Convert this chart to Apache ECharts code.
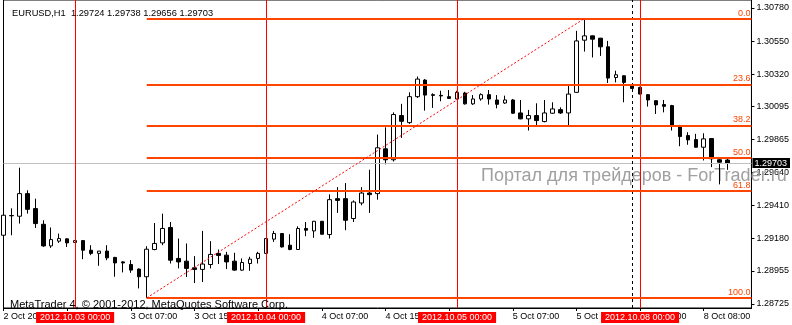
<!DOCTYPE html>
<html><head><meta charset="utf-8">
<script src="https://cdn.jsdelivr.net/npm/echarts@6/dist/echarts.min.js"></script>
<style>html,body{margin:0;padding:0;background:#fff}#c{width:792px;height:325px}</style>
</head><body><div id="c"></div>
<script>
const symbolTitle = 'EURUSD,H1';
const copyright = 'MetaTrader 4, \u00A9 2001-2012, MetaQuotes Software Corp.';
const watermark = 'Портал для трейдеров - ForTrader.ru';

// trading hours shown per day: [date, first hour, last hour]
const dayHours = [['2012.10.02',15,23],['2012.10.03',0,23],['2012.10.04',0,23],['2012.10.05',0,22],['2012.10.08',0,14]];

const opens = [1.29202,1.29339,1.29334,1.29491,1.29387,1.29278,1.29128,1.29161,1.29177,1.29152,
1.29165,1.29098,1.29076,1.29092,1.29048,1.29017,1.28999,1.28967,1.28914,1.29103,
1.29149,1.29256,1.29041,1.29022,1.28976,1.28965,1.28999,1.29076,1.29064,1.29022,
1.28960,1.29006,1.29041,1.29076,1.29175,1.29214,1.29133,1.29103,1.29249,1.29232,
1.29299,1.29207,1.29456,1.29456,1.29318,1.29426,1.29495,1.29491,1.29802,1.29726,
1.30033,1.29984,1.30164,1.30279,1.30178,1.30173,1.30164,1.30148,1.30189,1.30114,
1.30148,1.30178,1.30141,1.30120,1.30141,1.30051,1.30010,1.30033,1.29991,1.30049,
1.30074,1.30051,1.30194,1.30556,1.30586,1.30570,1.30510,1.30297,1.30309,1.30240,
1.30228,1.30178,1.30136,1.30109,1.30102,1.29963,1.29894,1.29866,1.29813,1.29873,
1.29726,1.29724];
const closes = [1.29341,1.29337,1.29491,1.29382,1.29283,1.29128,1.29172,1.29179,1.29149,1.29165,
1.29098,1.29076,1.29092,1.29045,1.29010,1.29010,1.28960,1.28914,1.29105,1.29145,
1.29249,1.29029,1.29017,1.28972,1.28965,1.29002,1.29069,1.29062,1.29017,1.28960,
1.29013,1.29036,1.29076,1.29179,1.29214,1.29121,1.29103,1.29249,1.29237,1.29299,
1.29209,1.29449,1.29444,1.29306,1.29433,1.29495,1.29484,1.29809,1.29726,1.30040,
1.29993,1.30164,1.30286,1.30175,1.30173,1.30169,1.30152,1.30194,1.30114,1.30148,
1.30178,1.30148,1.30111,1.30141,1.30049,1.30010,1.30033,1.29998,1.30051,1.30079,
1.30051,1.30182,1.30551,1.30586,1.30563,1.30510,1.30293,1.30316,1.30263,1.30221,
1.30182,1.30141,1.30107,1.30097,1.29968,1.29887,1.29864,1.29813,1.29871,1.29733,
1.29709,1.29703];
const lows = [1.29168,1.29202,1.29283,1.29352,1.29253,1.29121,1.29114,1.29149,1.29121,1.29149,
1.29036,1.29064,1.28990,1.29029,1.28914,1.28944,1.28941,1.28833,1.28767,1.29098,
1.29133,1.29006,1.28972,1.28912,1.28870,1.28877,1.28972,1.29002,1.28967,1.28955,
1.28955,1.28955,1.29006,1.29074,1.29156,1.29117,1.29098,1.29101,1.29195,1.29184,
1.29207,1.29179,1.29357,1.29237,1.29294,1.29410,1.29357,1.29449,1.29694,1.29714,
1.29878,1.29975,1.30155,1.30067,1.30086,1.30132,1.30150,1.30146,1.30109,1.30107,
1.30136,1.30109,1.30083,1.30114,1.30044,1.30007,1.29929,1.29956,1.29986,1.30044,
1.30044,1.29956,1.30192,1.30477,1.30436,1.30447,1.30259,1.30263,1.30125,1.30219,
1.30180,1.30095,1.30044,1.30055,1.29929,1.29820,1.29830,1.29811,1.29721,1.29675,
1.29555,1.29656];
const highs = [1.29467,1.29389,1.29671,1.29514,1.29456,1.29306,1.29256,1.29214,1.29181,1.29168,
1.29168,1.29133,1.29092,1.29133,1.29052,1.29022,1.29029,1.28972,1.29126,1.29287,
1.29352,1.29294,1.29179,1.29145,1.29057,1.29232,1.29161,1.29103,1.29087,1.29080,
1.29041,1.29052,1.29087,1.29181,1.29232,1.29216,1.29209,1.29264,1.29294,1.29301,
1.29301,1.29486,1.29536,1.29564,1.29444,1.29536,1.29657,1.29901,1.29951,1.30055,
1.30114,1.30194,1.30304,1.30286,1.30187,1.30205,1.30210,1.30205,1.30198,1.30175,
1.30187,1.30210,1.30175,1.30171,1.30148,1.30141,1.30072,1.30118,1.30141,1.30125,
1.30090,1.30247,1.30621,1.30706,1.30588,1.30572,1.30551,1.30344,1.30311,1.30247,
1.30233,1.30180,1.30138,1.30141,1.30107,1.29968,1.29917,1.29906,1.29910,1.29875,
1.29744,1.29738];

const yTicks = [1.30780,1.30550,1.30320,1.30095,1.29865,1.29640,1.29410,1.29180,1.28955,1.28725];
const yMin = 1.28697, yMax = 1.30835;
const xTickIndex = [0,8,16,24,32,40,48,56,64,72,80,88];
const xTickLabels = ['2 Oct 2012','','3 Oct 07:00','3 Oct 15:00','','4 Oct 07:00','4 Oct 15:00','','5 Oct 07:00','5 Oct 15:00','8 Oct 00:00','8 Oct 08:00'];
const separatorIndex = [9,33,57,80];
const dashedLineIndex = 79;
const fibLevels = [0,23.6,38.2,50,61.8,100];
const fibLowIndex = 18, fibHighIndex = 73;

const FONT = '"Liberation Sans", Arial, sans-serif';
const categories = [];
dayHours.forEach(([d,h0,h1]) => { for (let h = h0; h <= h1; h++) categories.push(d + ' ' + String(h).padStart(2,'0') + ':00'); });
const candleData = opens.map((o,i) => [o, closes[i], lows[i], highs[i]]);
const last = opens.length - 1;
const fHi = highs[fibHighIndex], fLo = lows[fibLowIndex];
const firstCat = categories[0], lastCat = categories[categories.length - 1];

function markerSeries(data, z) {
  return {type:'line', data:[], clip:false, silent:true, z:z,
    markLine:{symbol:['none','none'], silent:true, animation:false, precision:5, data:data}};
}

const series = [];
// price line (bid)
series.push(markerSeries([[{coord:[firstCat, closes[last]], lineStyle:{color:'#c0c0c0', width:1, type:'solid'},
  label:{show:true, position:'end', formatter: closes[last].toFixed(5), backgroundColor:'#000', color:'#fff',
    padding:[1,3,0,2], distance:1, fontFamily:FONT, fontSize:9}},
  {coord:[lastCat, closes[last]]}]], 2));
series.push({type:'candlestick', data:candleData, barWidth:4, z:3,
  itemStyle:{color:'#fff', color0:'#000', borderColor:'#000', borderColor0:'#000', borderWidth:1}});
// period separators, each its own marker series
separatorIndex.forEach(i => series.push(markerSeries([[{coord:[categories[i], yMin], lineStyle:{color:'#ff0000', width:1, type:'solid', opacity:1},
  label:{show:true, position:'start', formatter: categories[i], backgroundColor:'#ff0000', color:'#fff',
    padding:[1,4,0,4], distance:4, fontFamily:FONT, fontSize:9, lineHeight:10}},
  {coord:[categories[i], yMax]}]], 4)));
series.push(markerSeries([[{coord:[categories[dashedLineIndex], yMin], lineStyle:{color:'#000', width:1, type:[3,3]}, label:{show:false}},
  {coord:[categories[dashedLineIndex], yMax]}]], 4));
// fibonacci
const fibLines = fibLevels.map(r => {
  const p = fHi - r / 100 * (fHi - fLo);
  return [{coord:[categories[fibLowIndex], p], lineStyle:{color:'#ff4500', width:2, type:'solid'},
    label:{show:true, position:'insideEndTop', formatter: r.toFixed(1), color:'#ff4500', fontFamily:FONT, fontSize:9, distance:1}},
    {coord:[lastCat, p]}];
});
fibLines.push([{coord:[categories[fibLowIndex], fLo], lineStyle:{color:'#ff0000', width:1, type:[2,2]}, label:{show:false}},
  {coord:[categories[fibHighIndex], fHi]}]);
series.push(markerSeries(fibLines, 5));

const chart = echarts.init(document.getElementById('c'), null, {renderer:'canvas'});
chart.setOption({
  animation:false,
  backgroundColor:'#fff',
  title:[
    {text: symbolTitle + '  ' + [opens[last],highs[last],lows[last],closes[last]].map(v=>v.toFixed(5)).join(' '),
      left:7, top:4, z:10, textStyle:{fontFamily:FONT, fontSize:9.3, fontWeight:'normal', color:'#000'}},
    {text: copyright, left:5, top:294, z:10, textStyle:{fontFamily:FONT, fontSize:11, fontWeight:'normal', color:'#000'}},
    {text: watermark, left:476, top:162, z:1, textStyle:{fontFamily:FONT, fontSize:18, fontWeight:'normal', color:'#a0a0a0'}}
  ],
  grid:{left:3.5, right:36.5, top:-1, bottom:17, show:true, borderColor:'#000', borderWidth:1, backgroundColor:'rgba(0,0,0,0)'},
  xAxis:{type:'category', data:categories, boundaryGap:false,
    axisLine:{show:true, lineStyle:{color:'#000'}},
    axisTick:{show:true, alignWithLabel:true, length:3, interval:(i)=>xTickIndex.includes(i), lineStyle:{color:'#000'}},
    axisLabel:{interval:(i)=>xTickIndex.includes(i), formatter:(v,i)=>{const k = xTickIndex.indexOf(i); return k >= 0 ? xTickLabels[k] : '';},
      align:'left', margin:4, fontFamily:FONT, fontSize:9, color:'#000', showMinLabel:true},
    splitLine:{show:false}},
  yAxis:{type:'value', position:'right', min:yMin, max:yMax,
    axisLine:{show:true, lineStyle:{color:'#000'}},
    axisTick:{show:true, length:3, customValues:yTicks, lineStyle:{color:'#000'}},
    axisLabel:{customValues:yTicks, formatter:(v)=>v.toFixed(5), margin:5, fontFamily:FONT, fontSize:9, color:'#000'},
    splitLine:{show:false}},
  series: series
});
</script></body></html>
